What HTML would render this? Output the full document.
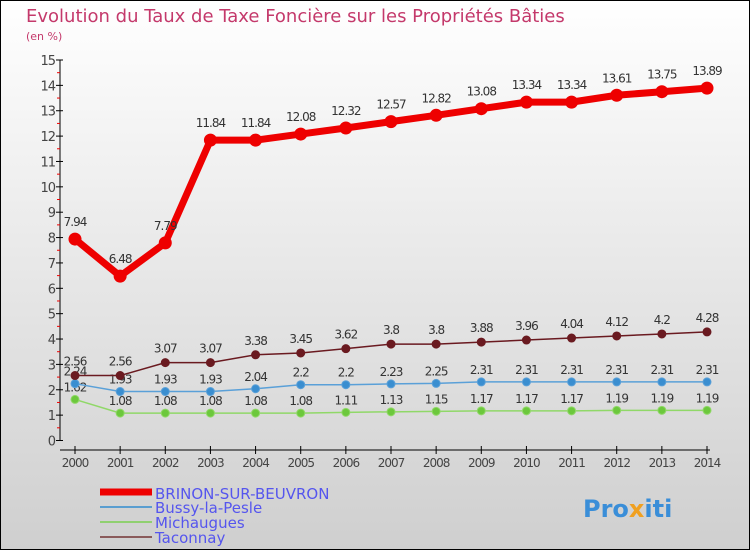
<!DOCTYPE html>
<html><head><meta charset="utf-8"><style>
body{margin:0}
#c{width:750px;height:550px;position:relative;overflow:hidden;font-family:"DejaVu Sans","Liberation Sans",sans-serif}
</style></head><body>
<div id="c">
<svg id="s" width="750" height="550" xmlns="http://www.w3.org/2000/svg">
<defs><linearGradient id="bg" x1="0" y1="0" x2="0" y2="1"><stop offset="0" stop-color="#ffffff"/><stop offset="1" stop-color="#cfcfcf"/></linearGradient></defs>
<rect x="0.5" y="0.5" width="749" height="549" fill="url(#bg)" stroke="#000"/>
<text x="26" y="22" font-size="18" fill="#c4396b">Evolution du Taux de Taxe Foncière sur les Propriétés Bâties</text>
<text x="26" y="40" font-size="11" fill="#c4396b">(en %)</text>
<g id="axes"></g><g id="series"></g>
<g>
<line x1="100" y1="492" x2="152" y2="492" stroke="#ee0000" stroke-width="7"/>
<text x="155" y="499" font-size="15" fill="#5555ee">BRINON-SUR-BEUVRON</text>
<line x1="100" y1="507" x2="152" y2="507" stroke="#5a9ed0" stroke-width="2"/>
<text x="155" y="513" font-size="15" fill="#5555ee">Bussy-la-Pesle</text>
<line x1="100" y1="522" x2="152" y2="522" stroke="#90d070" stroke-width="2"/>
<text x="155" y="528" font-size="15" fill="#5555ee">Michaugues</text>
<line x1="100" y1="537" x2="152" y2="537" stroke="#8a5a5a" stroke-width="2"/>
<text x="155" y="543" font-size="15" fill="#5555ee">Taconnay</text>
</g>
<text x="583" y="517" font-size="24" font-weight="bold" fill="#3a8ed8">Pro<tspan fill="#f0a020">x</tspan>iti</text>
</svg>
</div>
<script>
const years=[2000,2001,2002,2003,2004,2005,2006,2007,2008,2009,2010,2011,2012,2013,2014];
const brinon=[7.94,6.48,7.79,11.84,11.84,12.08,12.32,12.57,12.82,13.08,13.34,13.34,13.61,13.75,13.89];
const bussy=[2.24,1.93,1.93,1.93,2.04,2.2,2.2,2.23,2.25,2.31,2.31,2.31,2.31,2.31,2.31];
const michaugues=[1.62,1.08,1.08,1.08,1.08,1.08,1.11,1.13,1.15,1.17,1.17,1.17,1.19,1.19,1.19];
const taconnay=[2.56,2.56,3.07,3.07,3.38,3.45,3.62,3.8,3.8,3.88,3.96,4.04,4.12,4.2,4.28];
const yTicks=[0,1,2,3,4,5,6,7,8,9,10,11,12,13,14,15];
const NS="http://www.w3.org/2000/svg";
const X=i=>75+i*(707-75)/(years.length-1);
const Y=v=>440.5-v*(440.5-60)/15;
function mk(t,a,p){const e=document.createElementNS(NS,t);for(const k in a)e.setAttribute(k,a[k]);p.appendChild(e);return e;}
const ax=document.getElementById('axes');
let l=mk('line',{x1:60,y1:60,x2:60,y2:441,stroke:'#000'},ax);


l=mk('line',{x1:60,y1:450,x2:710,y2:450,stroke:'#000'},ax);


yTicks.forEach(v=>{
 mk('line',{x1:56,y1:Y(v),x2:63,y2:Y(v),stroke:'#000'},ax);
 if(v<15)mk('line',{x1:57,y1:Y(v+0.5),x2:60,y2:Y(v+0.5),stroke:'#e00'},ax);
 const t=mk('text',{x:55,y:Y(v)+5,'font-size':13,'text-anchor':'end',fill:'#444','letter-spacing':'-1'},ax);
 t.textContent=v;
 
 
});
years.forEach((y,i)=>{
 mk('line',{x1:X(i),y1:446,x2:X(i),y2:454,stroke:'#000'},ax);
 const t=mk('text',{x:X(i),y:467,'font-size':12,'text-anchor':'middle',fill:'#444','letter-spacing':'-1'},ax);
 t.textContent=y;
 
 
});
const sg=document.getElementById('series');
function draw(vals,color,dot,w,r,name,dy){
 const g=mk('g',{},sg);
 
 
 mk('polyline',{points:vals.map((v,i)=>X(i)+','+Y(v)).join(' '),fill:'none',stroke:color,'stroke-width':w,'stroke-linejoin':'round'},g);
 vals.forEach((v,i)=>{
  const c=mk('circle',{cx:X(i),cy:Y(v),r:r,fill:dot,stroke:color,'stroke-width':1},g);
  
  
  const t=mk('text',{x:X(i),y:Y(v)+dy,'font-size':12,'text-anchor':'middle',fill:'#333','letter-spacing':'-1'},g);
  t.textContent=v;
  
  
 });
}
draw(michaugues,'#90d868','#6cc83c',1.5,4,'michaugues',-8);
draw(bussy,'#5aa0d8','#3a8ed0',1.5,4,'bussy',-8);
draw(taconnay,'#6a1a20','#6a1a20',1.5,4,'taconnay',-10);
draw(brinon,'#ee0000','#ee0000',7,6,'brinon',-13);
</script>
</body></html>
